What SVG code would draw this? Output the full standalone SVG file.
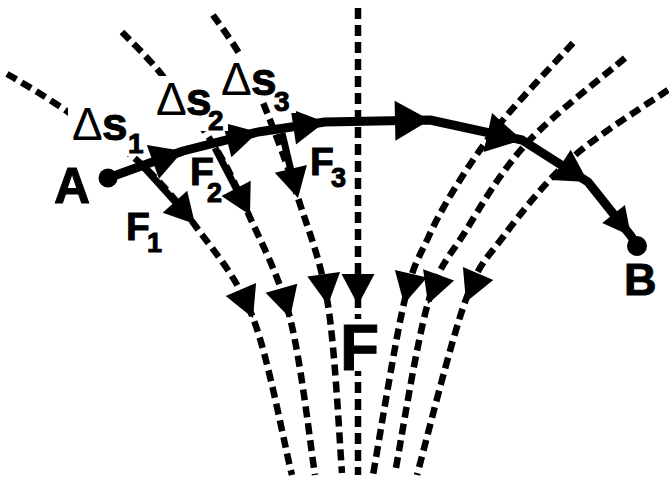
<svg xmlns="http://www.w3.org/2000/svg" width="669" height="478" viewBox="0 0 669 478">
<style>
.field{fill:none;stroke:#000;stroke-width:6.5;stroke-dasharray:11 6}
.main{fill:none;stroke:#000;stroke-width:9;stroke-linecap:butt;stroke-linejoin:round}
.force{fill:none;stroke:#000;stroke-width:7}
.head{fill:#000;stroke:none}
.lbl{font-family:"Liberation Sans",Arial,sans-serif;font-weight:bold;fill:#000;stroke:#000;stroke-width:1}
.d{font-weight:normal;stroke:none}
.bg{fill:#fff}
</style>
<defs>
<path id="hf" d="M0,0 L-31,-16.5 L-31,16.5 Z"/>
<path id="hm" d="M0,0 L-32,-18 L-32,18 Z"/>
<path id="hl" d="M0,0 L-35,-20 L-35,20 Z"/>
<path id="hs" d="M0,0 L-28,-14.5 L-28,14.5 Z"/>
<path id="ho" d="M0,0 L-30,-16.5 L-30,16.5 Z"/>
</defs>
<rect width="669" height="478" fill="#fff"/>
<g id="connectors">
<g id="field-lines">
<path class="field" d="M7,74 C18,80 48,98 71,114 C92,128 119,144 140,163 C161,182 178,202 197,228 C216,254 237,277 253,318 C269,359 285,449 292,475"/>
<path class="field" d="M122,32 C128.7,39.2 146.5,55.8 162,75 C177.5,94.2 200.7,124 215,147 C229.3,170 235.5,184.5 248,213 C260.5,241.5 278.8,274.3 290,318 C301.2,361.7 310.8,448.8 315,475"/>
<path class="field" d="M213,15 C217.5,21.7 231.5,40 240,55 C248.5,70 254.3,81.2 264,105 C273.7,128.8 287.3,164.7 298,198 C308.7,231.3 320.7,259.2 328,305 C335.3,350.8 339.7,445 342,473"/>
<path class="field" d="M358,8 V475"/>
<path class="field" d="M573,43 C561.3,55.8 521.8,97.2 503,120 C484.2,142.8 472.5,160.3 460,180 C447.5,199.7 437.3,217.5 428,238 C418.7,258.5 413.2,263.5 404,303 C394.8,342.5 378.2,446.3 373,475"/>
<path class="field" d="M625,58 C608.7,72.2 553.7,114 527,143 C500.3,172 481.5,205.3 465,232 C448.5,258.7 439.7,262.8 428,303 C416.3,343.2 400.5,444.7 395,473"/>
<path class="field" d="M668,90 C652.2,101.2 600.5,132.5 573,157 C545.5,181.5 521,212.8 503,237 C485,261.2 479.3,262.3 465,302 C450.7,341.7 425,446.2 417,475"/>
<use href="#hf" class="head" transform="translate(253,318) rotate(67)"/>
<use href="#hf" class="head" transform="translate(290,318) rotate(74)"/>
<use href="#hf" class="head" transform="translate(328,305) rotate(82)"/>
<use href="#hf" class="head" transform="translate(358,305) rotate(90)"/>
<use href="#hf" class="head" transform="translate(404,304) rotate(103)"/>
<use href="#hf" class="head" transform="translate(428,304) rotate(110)"/>
<use href="#hf" class="head" transform="translate(466,302) rotate(113)"/>
</g>
<g id="path-AB">
<path class="main" d="M108,178 L183,151 L258,132 L325,122 L430,120 L522,140 L588,182 L631,236 L637,246"/>
<use href="#hm" class="head" transform="translate(183,151) rotate(-19.8)"/>
<use href="#hm" class="head" transform="translate(258,132) rotate(-14.2)"/>
<use href="#hm" class="head" transform="translate(325,122) rotate(-8.5)"/>
<use href="#hl" class="head" transform="translate(430,120) rotate(-1.1)"/>
<use href="#hl" class="head" transform="translate(522,140) rotate(12.3)"/>
<use href="#hm" class="head" transform="translate(588,182) rotate(32.5)"/>
<use href="#hs" class="head" transform="translate(631,236) rotate(51.5)"/>
</g>
<g id="forces">
<path class="force" d="M140,163 L179,206"/>
<path class="force" d="M215,148 L239,194"/>
<path class="force" d="M282,133 L292,175"/>
<use href="#ho" class="head" transform="translate(195,224) rotate(48)"/>
<use href="#ho" class="head" transform="translate(250,215) rotate(62.4)"/>
<use href="#ho" class="head" transform="translate(298,198) rotate(76.2)"/>
</g>
</g>
<g id="A">
<circle cx="108" cy="178" r="9.5" fill="#000"/>
<text class="lbl" x="54" y="203" font-size="50">A</text>
</g>
<g id="B">
<circle cx="637" cy="246" r="10" fill="#000"/>
<text class="lbl" x="624" y="295" font-size="45">B</text>
</g>
<g id="ds1">
<rect class="bg" x="68" y="100" width="73" height="56"/>
<text class="lbl" x="72" y="140" font-size="46"><tspan class="d">Δ</tspan><tspan x="102">s</tspan><tspan x="128" y="153" font-size="28">1</tspan></text>
</g>
<g id="ds2">
<rect class="bg" x="152" y="76" width="76" height="55"/>
<text class="lbl" x="156" y="115" font-size="46"><tspan class="d">Δ</tspan><tspan x="186">s</tspan><tspan x="208" y="130" font-size="28">2</tspan></text>
</g>
<g id="ds3">
<rect class="bg" x="217" y="56" width="65" height="43"/>
<rect class="bg" x="273" y="86" width="23" height="27"/>
<text class="lbl" x="221" y="95" font-size="46"><tspan class="d">Δ</tspan><tspan x="251">s</tspan><tspan x="274" y="111" font-size="28">3</tspan></text>
</g>
<g id="F1">
<text class="lbl" x="126" y="240" font-size="39">F<tspan x="147" y="252" font-size="27">1</tspan></text>
</g>
<g id="F2">
<text class="lbl" x="190" y="185" font-size="39">F<tspan x="207" y="202" font-size="27">2</tspan></text>
</g>
<g id="F3">
<text class="lbl" x="310" y="175" font-size="39">F<tspan x="331" y="187" font-size="27">3</tspan></text>
</g>
<g id="F">
<rect class="bg" x="341" y="319" width="36" height="52"/>
<text class="lbl" x="340" y="370" font-size="64">F</text>
</g>
</svg>
